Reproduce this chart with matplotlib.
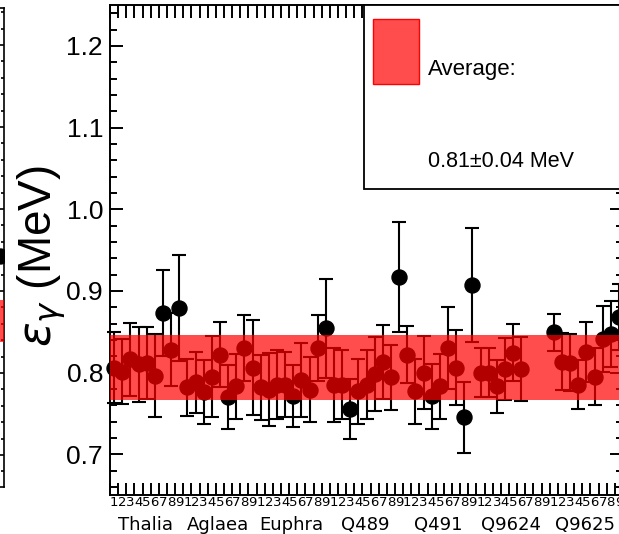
import numpy as np
import matplotlib
matplotlib.use('Agg')
import matplotlib.pyplot as plt
from matplotlib.patches import Rectangle
from matplotlib.ticker import MultipleLocator, FormatStrFormatter

# sample groups, 9 bins each
groups = ['Thalia', 'Aglaea', 'Euphra', 'Q489', 'Q491', 'Q9624', 'Q9625']
bin_labels = ['1', '2', '3', '4', '5', '6', '7', '8', '9']

# epsilon_gamma per bin (MeV), nan = empty bin
eps = [0.806, 0.801, 0.816, 0.810, 0.812, 0.796, 0.873, 0.828, 0.879,
       0.782, 0.788, 0.776, 0.795, 0.822, 0.770, 0.783, 0.830, 0.806,
       0.782, 0.779, 0.785, 0.785, 0.771, 0.791, 0.779, 0.830, 0.854,
       0.785, 0.785, 0.755, 0.777, 0.785, 0.798, 0.813, 0.794, 0.917,
       0.822, 0.777, 0.800, 0.771, 0.783, 0.830, 0.806, 0.745, 0.907,
       0.800, 0.800, 0.783, 0.804, 0.824, 0.804, np.nan, np.nan, np.nan,
       0.849, 0.813, 0.812, 0.785, 0.825, 0.795, 0.841, 0.847, 0.868]
err = [0.043, 0.040, 0.045, 0.046, 0.044, 0.051, 0.053, 0.045, 0.065,
       0.035, 0.037, 0.039, 0.050, 0.040, 0.039, 0.040, 0.040, 0.058,
       0.040, 0.045, 0.042, 0.040, 0.038, 0.045, 0.040, 0.040, 0.061,
       0.045, 0.042, 0.037, 0.040, 0.042, 0.045, 0.045, 0.040, 0.067,
       0.035, 0.040, 0.045, 0.040, 0.040, 0.050, 0.046, 0.043, 0.070,
       0.030, 0.030, 0.032, 0.038, 0.035, 0.039, np.nan, np.nan, np.nan,
       0.023, 0.035, 0.035, 0.030, 0.037, 0.035, 0.040, 0.040, 0.040]

avg = 0.806
avg_err = 0.04

# neighbouring panel (only its right edge is in the picture)
nb_band = (0.838, 0.889)
nb_point = 0.943

W, H = 619, 534
def fx(px):
    return px / W
def fy(py):
    return 1 - py / H

plt.rcParams['font.family'] = ['Liberation Sans', 'DejaVu Sans']
fig = plt.figure(figsize=(W / 100, H / 100), dpi=100)

nbins = len(groups) * len(bin_labels)
x = np.arange(nbins) + 0.5

# left neighbour
nb = fig.add_axes([fx(4 - 513), fy(487), 513 / W, 479 / H])
nb.set_xlim(0, nbins)
nb.set_ylim(0.661, 1.245)
nb.axhspan(nb_band[0], nb_band[1], color='red', alpha=0.7, lw=0, zorder=5)
nb.plot([x[-1]], [nb_point], 'o', color='black', ms=10.8)
nb.yaxis.set_minor_locator(MultipleLocator(0.02))
nb.tick_params(which='both', direction='in', left=False, labelleft=False,
               right=True, bottom=False, labelbottom=False, width=1.2)
for s in nb.spines.values():
    s.set_linewidth(1.2)

# main panel
ax = fig.add_axes([fx(110), fy(495), 513 / W, 490 / H])
cont = ax.errorbar(x, eps, yerr=err, fmt='o', color='black', ms=10.8,
                   elinewidth=1.5, capsize=4.7, capthick=1.5, zorder=2)
for art in cont.get_children():
    art.set_clip_on(False)
ax.axhspan(avg - avg_err, avg + avg_err, color='red', alpha=0.7, lw=0, zorder=5)

ax.set_xlim(0, nbins)
ax.set_ylim(0.65, 1.25)
ax.set_xticks(np.arange(nbins + 1))
ax.set_xticklabels([])
ax.set_xticks(x, labels=bin_labels * len(groups), minor=True)
ax.tick_params(axis='x', which='major', direction='in', length=9, width=1.4,
               top=True, bottom=True)
ax.tick_params(axis='x', which='minor', length=0, pad=1, labelsize=9.5,
               labelfontfamily='DejaVu Sans')
ax.yaxis.set_major_locator(MultipleLocator(0.1))
ax.yaxis.set_minor_locator(MultipleLocator(0.02))
ax.yaxis.set_major_formatter(FormatStrFormatter('%.1f'))
ax.tick_params(axis='y', which='major', direction='in', length=9.5, width=1.4,
               right=True, labelsize=19, pad=5)
ax.tick_params(axis='y', which='minor', direction='in', length=4.8, width=1.4,
               right=True)
for s in ax.spines.values():
    s.set_linewidth(1.4)

for i, g in enumerate(groups):
    ax.text(len(bin_labels) * i + 4.3, (495 - 530) / 490, g,
            transform=ax.get_xaxis_transform(), ha='center', va='baseline',
            fontsize=13, family='DejaVu Sans')

fig.text(fx(42), fy(256), r'$\epsilon_{\gamma}$ (MeV)', rotation=90,
         fontsize=33, ha='center', va='center')

# legend box
fig.add_artist(Rectangle((fx(364), fy(189)), fx(700) - fx(364), (189 - 5) / H,
                         transform=fig.transFigure, facecolor='white',
                         edgecolor='black', lw=1.3, zorder=10))
fig.add_artist(Rectangle((fx(373), fy(84)), 46 / W, 65 / H,
                         transform=fig.transFigure, facecolor=(1, 0.3, 0.3),
                         edgecolor='red', lw=1, zorder=11))
fig.text(fx(428), fy(75), 'Average:', fontsize=16, va='baseline', zorder=12)
fig.text(fx(428), fy(167), '0.81\u00b10.04 MeV', fontsize=15.5, va='baseline',
         zorder=12)

fig.savefig('out.png', dpi=100)
